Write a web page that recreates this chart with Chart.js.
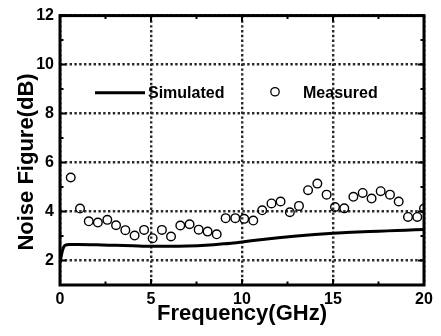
<!DOCTYPE html>
<html>
<head>
<meta charset="utf-8">
<script src="https://cdn.jsdelivr.net/npm/chart.js@4/dist/chart.umd.min.js"></script>
<style>
    html, body { margin: 0; padding: 0; background: #fff; }
    #nfChart { display: block; }
</style>
</head>
<body>
<canvas id="nfChart" width="441" height="336"></canvas>
<script>
// ==========================================================
// 1. DATA
// ==========================================================
const xTicks = [0, 5, 10, 15, 20];
const yTicks = [2, 4, 6, 8, 10, 12];
const xMinorTicks = [2.5, 7.5, 12.5, 17.5];
const yMinorTicks = [3, 5, 7, 9, 11];

// Simulated NF curve
const simFreq = [0, 0.1, 0.2, 0.3, 0.5, 1, 2, 3, 4, 5, 6, 7, 8, 9, 10, 11, 12, 13, 14, 15, 16, 17, 18, 19, 20];
const simNF   = [1.9, 2.3, 2.55, 2.63, 2.65, 2.65, 2.64, 2.62, 2.6, 2.58, 2.58, 2.59, 2.62, 2.68, 2.76, 2.85, 2.93, 3.0, 3.06, 3.11, 3.15, 3.18, 3.21, 3.24, 3.27];

// Measured NF points
const measFreq = [0.59, 1.1, 1.58, 2.08, 2.6, 3.08, 3.59, 4.1, 4.62, 5.09,
                  5.6, 6.1, 6.61, 7.12, 7.62, 8.11, 8.61, 9.1, 9.63, 10.12,
                  10.62, 11.11, 11.62, 12.12, 12.63, 13.13, 13.63, 14.14, 14.65, 15.11,
                  15.62, 16.12, 16.63, 17.12, 17.62, 18.13, 18.61, 19.12, 19.63, 20.0];
const measNF   = [5.39, 4.12, 3.6, 3.55, 3.66, 3.44, 3.24, 3.02, 3.25, 2.91,
                  3.25, 2.98, 3.43, 3.48, 3.26, 3.18, 3.07, 3.73, 3.73, 3.7,
                  3.63, 4.05, 4.33, 4.41, 3.97, 4.23, 4.87, 5.14, 4.69, 4.18,
                  4.13, 4.6, 4.76, 4.53, 4.83, 4.69, 4.41, 3.78, 3.78, 4.12];

const FONT = '"Liberation Sans", Arial, sans-serif';

// ==========================================================
// 2. FRAME, INWARD TICKS, LEGEND, Y TITLE
// ==========================================================
const framePlugin = {
    id: 'frame',
    afterDatasetsDraw(chart) {
        const { ctx, chartArea: a, scales: { x, y } } = chart;
        ctx.save();
        ctx.strokeStyle = '#000';

        // tick marks on all four sides, pointing inwards
        ctx.lineWidth = 2;
        const tick = (vals, len, horiz) => {
            vals.forEach(v => {
                ctx.beginPath();
                if (horiz) {
                    const px = x.getPixelForValue(v);
                    ctx.moveTo(px, a.bottom); ctx.lineTo(px, a.bottom - len);
                    ctx.moveTo(px, a.top); ctx.lineTo(px, a.top + len);
                } else {
                    const py = y.getPixelForValue(v);
                    ctx.moveTo(a.left, py); ctx.lineTo(a.left + len, py);
                    ctx.moveTo(a.right, py); ctx.lineTo(a.right - len, py);
                }
                ctx.stroke();
            });
        };
        tick(xTicks, 6, true);
        tick(xMinorTicks, 3.5, true);
        tick(yTicks, 6, false);
        tick(yMinorTicks, 3.5, false);

        ctx.lineWidth = 3;
        ctx.strokeRect(a.left, a.top, a.right - a.left, a.bottom - a.top);

        // legend inside the plot
        const ly = y.getPixelForValue(8.85);
        ctx.lineWidth = 3;
        ctx.beginPath();
        ctx.moveTo(95, ly); ctx.lineTo(145, ly);
        ctx.stroke();
        ctx.lineWidth = 1.3;
        ctx.beginPath();
        ctx.arc(275, ly - 1, 4.2, 0, Math.PI * 2);
        ctx.stroke();
        ctx.fillStyle = '#000';
        ctx.font = 'bold 16px ' + FONT;
        ctx.textBaseline = 'middle';
        ctx.textAlign = 'left';
        ctx.fillText('Simulated', 148, ly + 1);
        ctx.fillText('Measured', 303, ly + 1);

        // y axis title
        ctx.translate(27, 162);
        ctx.rotate(-Math.PI / 2);
        ctx.textAlign = 'center';
        ctx.font = 'bold 22px ' + FONT;
        ctx.fillText('Noise Figure(dB)', 0, 0);
        ctx.restore();
    }
};

// ==========================================================
// 3. CHART
// ==========================================================
new Chart(document.getElementById('nfChart'), {
    type: 'line',
    data: {
        datasets: [
            {
                label: 'Measured',
                data: measFreq.map((f, i) => ({ x: f, y: measNF[i] })),
                showLine: false,
                pointRadius: 4.3,
                pointBorderWidth: 1.4,
                pointBorderColor: '#000',
                pointBackgroundColor: 'rgba(0,0,0,0)',
                order: 0
            },
            {
                label: 'Simulated',
                data: simFreq.map((f, i) => ({ x: f, y: simNF[i] })),
                borderColor: '#000',
                borderWidth: 3,
                pointRadius: 0,
                cubicInterpolationMode: 'monotone',
                order: 1
            }
        ]
    },
    options: {
        responsive: false,
        animation: false,
        layout: { padding: { top: 15, right: 17, left: 0, bottom: 0 } },
        plugins: { legend: { display: false }, tooltip: { enabled: false } },
        scales: {
            x: {
                type: 'linear',
                min: 0, max: 20,
                afterBuildTicks: s => { s.ticks = xTicks.map(v => ({ value: v })); },
                afterFit: s => { s.height = 51; },
                ticks: { color: '#000', font: { family: FONT, size: 16, weight: 'bold' }, padding: 5, maxRotation: 0 },
                grid: { color: '#2a2a2a', lineWidth: 2.4, drawTicks: false },
                border: { display: false, dash: [2.4, 2.4] },
                title: {
                    display: true,
                    text: 'Frequency(GHz)',
                    color: '#000',
                    font: { family: FONT, size: 22, weight: 'bold' },
                    padding: { top: 0, bottom: 9 }
                }
            },
            y: {
                type: 'linear',
                min: 1, max: 12,
                afterBuildTicks: s => { s.ticks = yTicks.map(v => ({ value: v })); },
                afterFit: s => { s.width = 60; },
                ticks: { color: '#000', font: { family: FONT, size: 16, weight: 'bold' }, padding: 6 },
                grid: { color: '#2a2a2a', lineWidth: 2.4, drawTicks: false },
                border: { display: false, dash: [2.4, 2.4] }
            }
        }
    },
    plugins: [framePlugin]
});
</script>
</body>
</html>
